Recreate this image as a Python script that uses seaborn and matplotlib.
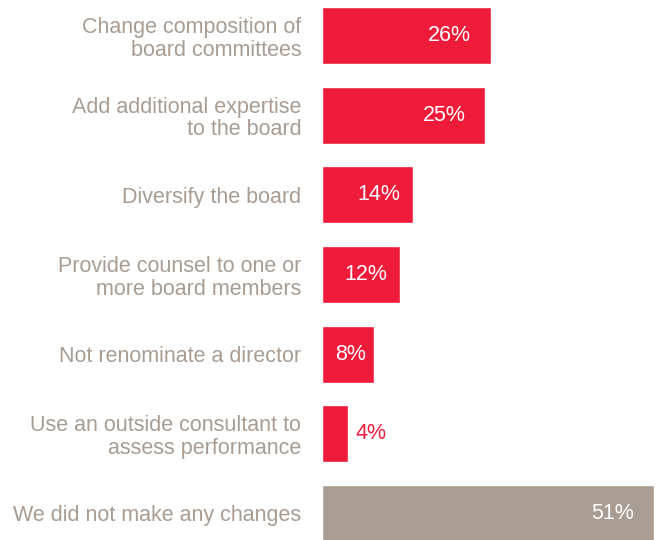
#!/usr/bin/env python3

"""
Board changes horizontal bar chart
"""

import pandas as pd
import seaborn as sns
import matplotlib.pyplot as plt

# Data
categories = [
    "Change composition of\nboard committees",
    "Add additional expertise\nto the board",
    "Diversify the board",
    "Provide counsel to one or\nmore board members",
    "Not renominate a director",
    "Use an outside consultant to\nassess performance",
    "We did not make any changes",
]
values = [26, 25, 14, 12, 8, 4, 51]
bar_colors = ["#EE1C3A"] * 6 + ["#A89C93"]
# right padding (px) of the value label inside each bar; None = label outside
label_pad = [20, 19, 13, 13, 8, None, 20]

RED = "#EE1C3A"
LABEL_GRAY = "#A89C93"
FS = 15.5

df = pd.DataFrame({"category": categories, "value": values})

sns.set_theme(style="white")
plt.rcParams["font.family"] = ["Liberation Sans", "DejaVu Sans"]

fig = plt.figure(figsize=(6.56, 5.4), dpi=100)
# axes spans from the bar base (x=322px) to the right edge
ax = fig.add_axes([322 / 656, 0, 334 / 656, 1])

sns.barplot(data=df, x="value", y="category", hue="category",
            palette=bar_colors, legend=False, width=0.715,
            orient="h", ax=ax, saturation=1)

ax.set_xlim(0, 51 * 334 / 332)
ax.set_ylim(6.333, -0.446)

# value labels: inside the bar in white, outside in red when bar is short
for i, (v, pad) in enumerate(zip(values, label_pad)):
    if pad is not None:
        ax.annotate(f"{v}%", xy=(v, i), xytext=(-pad, 0),
                    textcoords="offset pixels", ha="right", va="center",
                    color="white", fontsize=FS)
    else:
        ax.annotate(f"{v}%", xy=(v, i), xytext=(7, 0),
                    textcoords="offset pixels", ha="left", va="center",
                    color=RED, fontsize=FS)

ax.set_xlabel("")
ax.set_ylabel("")
ax.set_xticks([])
ax.tick_params(axis="y", length=0, pad=15, labelsize=FS, labelcolor=LABEL_GRAY)
for lbl in ax.get_yticklabels():
    lbl.set_multialignment("right")
    lbl.set_linespacing(1.1)

sns.despine(ax=ax, left=True, bottom=True)

plt.savefig("out.png", dpi=100)
